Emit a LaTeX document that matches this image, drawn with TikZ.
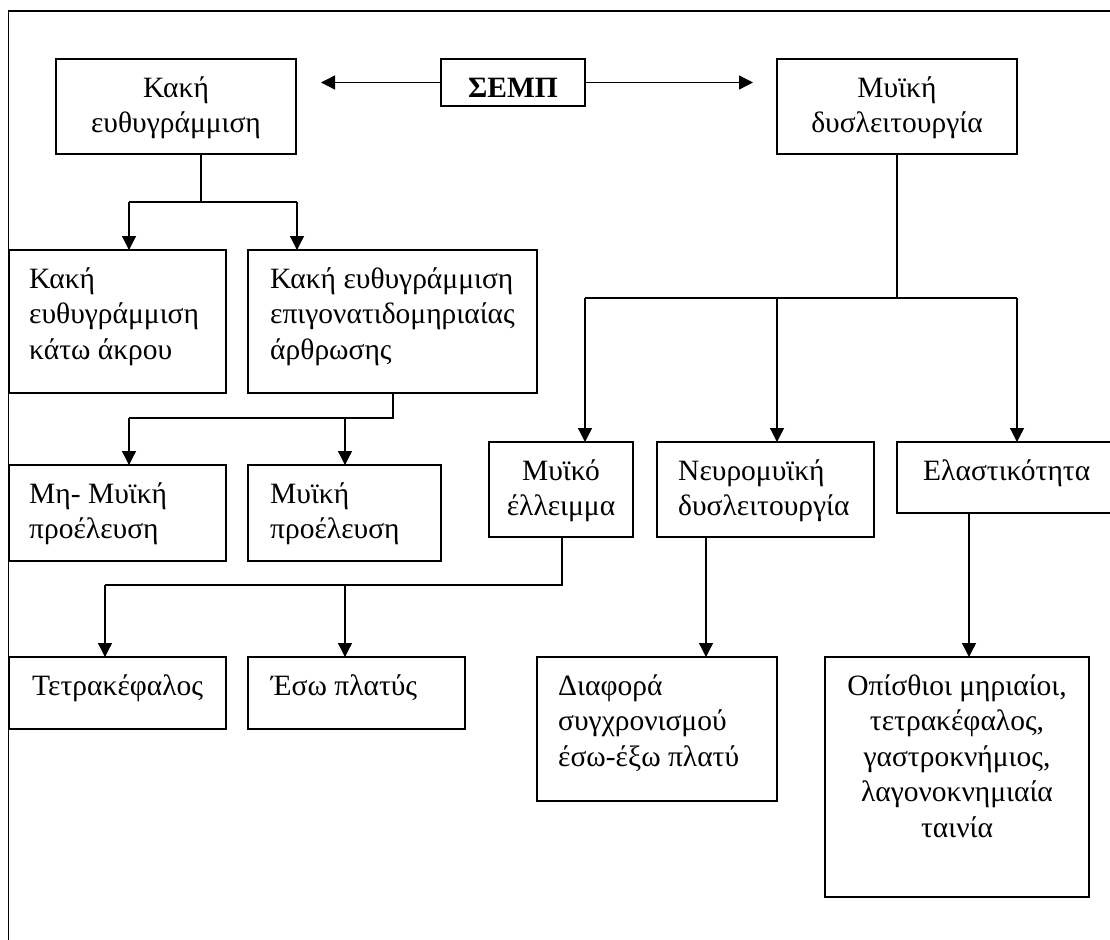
\documentclass[tikz,border=0pt]{standalone}
\usepackage{fontspec}
\setmainfont{Liberation Serif}
\usetikzlibrary{arrows.meta,calc}
\newcommand\fstrut{\rule{0pt}{22pt}}
\begin{document}
\begin{tikzpicture}[x=1pt,y=-1pt,
  box/.style={draw, line width=1.4pt, inner sep=0pt, outer sep=0pt, anchor=north west},
  lbl/.style={inner sep=0pt, font=\fontsize{29.5}{35.5}\selectfont, anchor=north west, align=left},
  clbl/.style={inner sep=0pt, font=\fontsize{29.5}{35.5}\selectfont, anchor=north, align=center},
  con/.style={line width=1.3pt},
  arr/.style={con, -{Triangle[width=14pt,length=14pt]}}]
\clip (0,0) rectangle (1110,939);
\fill[white] (0,0) rectangle (1110,939);
% frame
\coordinate (fbl) at (8.5,945);
\coordinate (ftl) at (8.5,11);
\coordinate (ftr) at (1115,11);
\draw[line width=1.5pt] (fbl) -- (ftl) -- (ftr);
% boxes
\node[box, minimum width=240pt, minimum height=95pt] (kak) at (56,59) {};
\node[box, minimum width=144pt, minimum height=47pt] (semp) at (441,59) {};
\node[box, minimum width=240pt, minimum height=95pt] (myd) at (777,59) {};
\node[box, minimum width=217pt, minimum height=143pt] (kak1) at (9,250) {};
\node[box, minimum width=289pt, minimum height=143pt] (kak2) at (248,250) {};
\node[box, minimum width=217pt, minimum height=96pt] (mhm) at (9,465) {};
\node[box, minimum width=193pt, minimum height=96pt] (myp) at (248,465) {};
\node[box, minimum width=144pt, minimum height=95pt] (mye) at (489,442) {};
\node[box, minimum width=217pt, minimum height=95pt] (neu) at (657,442) {};
\node[box, minimum width=223pt, minimum height=71pt] (ela) at (897,442) {};
\node[box, minimum width=217pt, minimum height=72pt] (tet) at (9,657) {};
\node[box, minimum width=217pt, minimum height=72pt] (eso) at (248,657) {};
\node[box, minimum width=240pt, minimum height=144pt] (dia) at (537,657) {};
\node[box, minimum width=264pt, minimum height=240pt] (opi) at (825,657) {};
% texts
\node[clbl] (kakT) at (176,75) {\fstrut Κακή\\ευθυγράμμιση};
\node[clbl] (sempT) at (513,75) {\fstrut\textbf{ΣΕΜΠ}};
\node[clbl] (mydT) at (897,75) {\fstrut Μυϊκή\\δυσλειτουργία};
\node[lbl] (kak1T) at (29,266) {\fstrut Κακή\\ευθυγράμμιση\\κάτω άκρου};
\node[lbl] (kak2T) at (270,266) {\fstrut Κακή ευθυγράμμιση\\επιγονατιδομηριαίας\\άρθρωσης};
\node[lbl] (mhmT) at (29,481) {\fstrut Μη- Μυϊκή\\προέλευση};
\node[lbl] (mypT) at (270,481) {\fstrut Μυϊκή\\προέλευση};
\node[clbl] (myeT) at (561,458) {\fstrut Μυϊκό\\έλλειμμα};
\node[lbl] (neuT) at (678,458) {\fstrut Νευρομυϊκή\\δυσλειτουργία};
\node[lbl] (elaT) at (923,458) {\fstrut Ελαστικότητα};
\node[lbl] (tetT) at (32,673) {\fstrut Τετρακέφαλος};
\node[lbl] (esoT) at (271,673) {\fstrut Έσω πλατύς};
\node[lbl] (diaT) at (558,673) {\fstrut Διαφορά\\συγχρονισμού\\έσω-έξω πλατύ};
\node[clbl] (opiT) at (957,673) {\fstrut Οπίσθιοι μηριαίοι,\\τετρακέφαλος,\\γαστροκνήμιος,\\λαγονοκνημιαία\\ταινία};
% connectors
\coordinate (semL) at (321,82.5);
\coordinate (semR) at (753,82.5);
\draw[arr] (semp.west) -- (semL);
\draw[arr] (semp.east) -- (semR);

\coordinate (j1) at (201,202);
\coordinate (j1a) at (129,202);
\coordinate (j1b) at (297,202);
\draw[con] (kak.south -| j1) -- (j1);
\draw[con] (j1a) -- (j1b);
\draw[arr] (j1a) -- (kak1.north -| j1a);
\draw[arr] (j1b) -- (kak2.north -| j1b);

\coordinate (j2) at (393,418);
\coordinate (j2a) at (129,418);
\coordinate (j2b) at (345,418);
\draw[con] (kak2.south -| j2) -- (j2) -- (j2a);
\draw[arr] (j2a) -- (mhm.north -| j2a);
\draw[arr] (j2b) -- (myp.north -| j2b);

\coordinate (j3) at (897,298);
\coordinate (j3a) at (585,298);
\coordinate (j3b) at (777,298);
\coordinate (j3c) at (1017,298);
\draw[con] (myd.south -| j3) -- (j3);
\draw[con] (j3a) -- (j3c);
\draw[arr] (j3a) -- (mye.north -| j3a);
\draw[arr] (j3b) -- (neu.north -| j3b);
\draw[arr] (j3c) -- (ela.north -| j3c);

\coordinate (j4) at (562,585);
\coordinate (j4a) at (105,585);
\coordinate (j4b) at (345,585);
\draw[con] (mye.south -| j4) -- (j4) -- (j4a);
\draw[arr] (j4a) -- (tet.north -| j4a);
\draw[arr] (j4b) -- (eso.north -| j4b);

\coordinate (x5) at (706,0);
\coordinate (x6) at (969,0);
\draw[arr] (neu.south -| x5) -- (dia.north -| x5);
\draw[arr] (ela.south -| x6) -- (opi.north -| x6);
\end{tikzpicture}
\end{document}
